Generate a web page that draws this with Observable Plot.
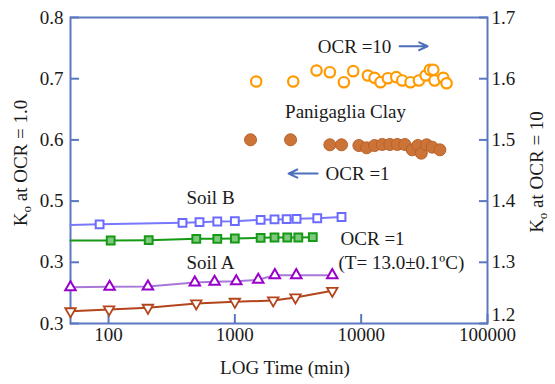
<!DOCTYPE html>
<html>
<head>
<meta charset="utf-8">
<script src="https://cdn.jsdelivr.net/npm/d3@7"></script>
<script src="https://cdn.jsdelivr.net/npm/@observablehq/plot@0.6"></script>
<style>
  html, body { margin: 0; padding: 0; background: #ffffff; }
  #chart svg { display: block; }
</style>
</head>
<body>
<div id="chart"></div>
<script>
// ---- Data ----
// Soil B (open squares), OCR = 1
const soilBTime = [50, 85, 385, 525, 726, 1000, 1600, 2060, 2570, 3080, 4490, 6990];
const soilBK    = [0.461, 0.462, 0.4645, 0.4655, 0.4667, 0.4672, 0.4694, 0.470, 0.4704, 0.471, 0.472, 0.474];
// Green squares, OCR = 1
const greenTime = [50, 104, 208, 495, 726, 1000, 1600, 2060, 2600, 3180, 4140];
const greenK    = [0.4356, 0.4356, 0.4361, 0.4384, 0.4384, 0.4389, 0.440, 0.4405, 0.4405, 0.4405, 0.441];
// Soil A (triangles up)
const soilATime = [50, 102, 205, 482, 691, 1026, 1532, 2073, 3063, 5904];
const soilAK    = [0.3593, 0.360, 0.3605, 0.367, 0.3681, 0.3691, 0.3714, 0.379, 0.379, 0.379];
// Brown triangles down
const brownTime = [50, 101, 205, 495, 1000, 2013, 3020, 5904];
const brownK    = [0.320, 0.3229, 0.3257, 0.3327, 0.3355, 0.3376, 0.3425, 0.3534];
// Panigaglia Clay, OCR = 10 (right axis)
const ocr10Time = [1476, 2899, 4433, 5650, 7295, 8650, 11300, 12760, 14230, 16260, 18950, 21150, 24600, 28640, 32360, 35000, 37240, 38100, 44670, 47420];
const ocr10K    = [1.5954, 1.5954, 1.6134, 1.6106, 1.5943, 1.6123, 1.6052, 1.6015, 1.5943, 1.6008, 1.6025, 1.5971, 1.5943, 1.5971, 1.6052, 1.6145, 1.6145, 1.5971, 1.6015, 1.5926];
// Panigaglia Clay, OCR = 1 (left axis)
const ocr1Time = [1331, 2760, 5650, 6990, 9590, 11040, 12760, 14690, 16870, 19320, 22180, 25350, 28120, 29920, 32960, 36560, 41980];
const ocr1K    = [0.6002, 0.6002, 0.592, 0.592, 0.5908, 0.5871, 0.5908, 0.5925, 0.5925, 0.5925, 0.5925, 0.5838, 0.5908, 0.5783, 0.592, 0.5881, 0.5838];

// Axis ticks and labels
const xTicks = [100, 1000, 10000, 100000];
const yLeftTicks = [0.3, 0.4, 0.5, 0.6, 0.7, 0.8];
const yLeftLabels = ["0.3", "0.3", "0.5", "0.6", "0.7", "0.8"];
const yRightTicks = [1.2, 1.3, 1.4, 1.5, 1.6, 1.7];
const rightOffset = 0.9; // right axis value = left axis value + 0.9

// Annotations
const annoText   = ["OCR =10", "Panigaglia Clay", "OCR =1", "Soil B", "Soil A", "OCR =1", "(T= 13.0\u00B10.1\u00BAC)"];
const annoTime   = [8870, 7520, 5225, 642, 642, 6870, 6620];
const annoK      = [0.7526, 0.6464, 0.5451, 0.5059, 0.3997, 0.4389, 0.3997];
const annoAnchor = ["middle", "middle", "start", "middle", "middle", "start", "start"];
const arrowTimeFrom = [20140, 4517];
const arrowTimeTo   = [33550, 2662];
const arrowK        = [0.753, 0.545];

// ---- Build tables ----
const zip = (t, k) => t.map((v, i) => ({t: v, k: k[i]}));
const soilB = zip(soilBTime, soilBK);
const green = zip(greenTime, greenK);
const soilA = zip(soilATime, soilAK);
const brown = zip(brownTime, brownK);
const ocr10 = zip(ocr10Time, ocr10K);
const ocr1 = zip(ocr1Time, ocr1K);
const annos = annoText.map((s, i) => ({s, t: annoTime[i], k: annoK[i], a: annoAnchor[i]}));
const arrows = arrowK.map((k, i) => ({t1: arrowTimeFrom[i], t2: arrowTimeTo[i], k}));

const axisBlue = "#5a78c0";
const ink = "#1a1a1a";
const triangleDown = {
  draw(context, size) {
    const s = Math.sqrt(size / (Math.sqrt(3) / 4));
    const h = s * Math.sqrt(3) / 2;
    context.moveTo(0, h * 2 / 3);
    context.lineTo(-s / 2, -h / 3);
    context.lineTo(s / 2, -h / 3);
    context.closePath();
  }
};

const chart = Plot.plot({
  width: 555,
  height: 384,
  marginLeft: 70,
  marginRight: 68,
  marginTop: 17,
  marginBottom: 61,
  style: {fontFamily: "'Liberation Serif', 'Times New Roman', serif", fontSize: "19px", background: "#ffffff", color: ink},
  x: {type: "log", domain: [50, 100000]},
  y: {domain: [0.3, 0.8]},
  marks: [
    Plot.frame({stroke: axisBlue, strokeWidth: 2}),
    Plot.axisX(xTicks, {tickSize: -9, tickPadding: 13, stroke: axisBlue, strokeWidth: 2, tickFormat: d => String(d), label: null, fill: ink}),
    Plot.axisY(yLeftTicks, {anchor: "left", tickSize: -9, tickPadding: 16, stroke: axisBlue, strokeWidth: 2, tickFormat: d => yLeftLabels[yLeftTicks.indexOf(d)], label: null, fill: ink}),
    // right axis ticks
    Plot.axisY(yRightTicks.map(v => v - rightOffset), {anchor: "right", tickSize: -9, stroke: axisBlue, strokeWidth: 2, text: null, label: null}),
    // right axis labels (lowest one lifted as in the reference)
    Plot.axisY(yRightTicks.slice(1).map(v => v - rightOffset), {anchor: "right", tickSize: 0, tickPadding: 4, tickFormat: d => (d + rightOffset).toFixed(1), label: null, fill: ink}),
    Plot.axisY(yRightTicks.slice(0, 1).map(v => v - rightOffset), {anchor: "right", tickSize: 0, tickPadding: 4, dy: -9, tickFormat: d => (d + rightOffset).toFixed(1), label: null, fill: ink}),

    // Soil B
    Plot.line(soilB, {x: "t", y: "k", stroke: "#7878ff", strokeWidth: 2}),
    Plot.dot(soilB.slice(1), {x: "t", y: "k", symbol: "square", r: 4.4, stroke: "#6a6aff", fill: "#ffffff", strokeWidth: 2}),
    // Green
    Plot.line(green, {x: "t", y: "k", stroke: "#159a15", strokeWidth: 2}),
    Plot.dot(green.slice(1), {x: "t", y: "k", symbol: "square", r: 4.4, stroke: "#159a15", fill: "#80c880", strokeWidth: 2}),
    // Soil A
    Plot.line(soilA, {x: "t", y: "k", stroke: "#a878d8", strokeWidth: 2}),
    Plot.dot(soilA, {x: "t", y: "k", symbol: "triangle", r: 3.9, stroke: "#9a00cc", fill: "#ffffff", strokeWidth: 2}),
    // Brown triangles down
    Plot.line(brown, {x: "t", y: "k", stroke: "#b3451c", strokeWidth: 2}),
    Plot.dot(brown, {x: "t", y: "k", symbol: triangleDown, r: 3.9, stroke: "#b3451c", fill: "#ffffff", strokeWidth: 1.8}),

    // Panigaglia Clay OCR = 1
    Plot.dot(ocr1, {x: "t", y: "k", r: 6, fill: "#cc7438", stroke: "#b8612a", strokeWidth: 1}),
    // Panigaglia Clay OCR = 10 (right axis)
    Plot.dot(ocr10, {x: "t", y: d => d.k - rightOffset, r: 5.2, stroke: "#ff9a00", fill: "#ffffff", strokeWidth: 2.2}),

    // Annotations
    Plot.text(annos, {filter: d => d.a === "middle", x: "t", y: "k", text: "s", textAnchor: "middle", fill: ink, fontSize: 19}),
    Plot.text(annos, {filter: d => d.a === "start", x: "t", y: "k", text: "s", textAnchor: "start", fill: ink, fontSize: 19}),
    Plot.arrow(arrows, {x1: "t1", x2: "t2", y1: "k", y2: "k", stroke: "#4d6fbb", strokeWidth: 2, headLength: 9, headAngle: 50})
  ]
});

document.getElementById("chart").appendChild(chart);

// Axis titles (with subscript)
const svg = d3.select(chart);
const font = "'Liberation Serif', 'Times New Roman', serif";
function ylabel(x, y, tail) {
  const t = svg.append("text")
    .attr("transform", `translate(${x},${y}) rotate(-90)`)
    .attr("text-anchor", "middle")
    .attr("font-family", font)
    .attr("font-size", 19)
    .attr("fill", ink);
  t.append("tspan").text("K");
  t.append("tspan").attr("font-size", 13).attr("dy", 4).text("o");
  t.append("tspan").attr("dy", -4).text(tail);
}
ylabel(27, 163, " at OCR = 1.0");
ylabel(543, 172, " at OCR = 10");
svg.append("text")
  .attr("x", 285).attr("y", 374)
  .attr("text-anchor", "middle")
  .attr("font-family", font)
  .attr("font-size", 19)
  .attr("fill", ink)
  .text("LOG Time (min)");
</script>
</body>
</html>
